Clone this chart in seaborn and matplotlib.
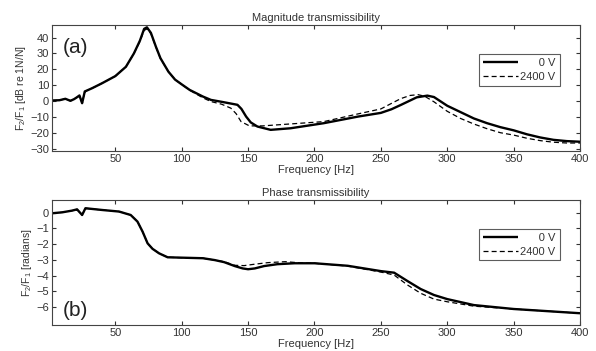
import pandas as pd
import matplotlib
matplotlib.use('Agg')
import matplotlib.pyplot as plt
import seaborn as sns

# Magnitude transmissibility, 0 V
mag_freq_0v = [2.3, 8, 12.4, 16.2, 19, 21.2, 23, 25, 27, 32.6, 40, 50, 58, 64, 68.5, 71.7, 73.8, 76.8,
               80.6, 84, 90, 95, 100, 106, 116, 122, 130, 142, 145, 148.5, 152, 157, 167, 182, 207,
               233, 250, 258, 265, 270, 277, 285, 290, 300, 310, 320, 330, 340, 350, 360, 370, 380, 390, 400]
mag_db_0v = [0.3, 0.5, 1.4, 0.1, 1.2, 2.4, 3.5, -1.4, 6, 8.1, 11.2, 15.7, 21.6, 30, 38, 45.5, 46.5, 43,
             34.2, 27, 18.5, 13.5, 10.5, 7, 2.8, 0.7, -0.5, -2.4, -5, -9.8, -13.5, -16.1, -18.2, -17.2, -14,
             -9.8, -7.5, -5.2, -2.5, -0.5, 2.3, 3.4, 2.5, -3, -7, -11, -14, -16.5, -18.5, -21, -23, -24.5, -25.3, -25.7]

# Magnitude transmissibility, 2400 V
mag_freq_2400v = [2.3, 8, 12.4, 16.2, 19, 21.2, 23, 25, 27, 32.6, 40, 50, 58, 64, 68.5, 71.7, 73.8, 76.8,
                  80.6, 84, 90, 95, 100, 106, 116, 122, 130, 137, 141, 144.7, 151, 161, 207, 233, 250, 258,
                  265, 272, 278, 283, 290, 300, 310, 320, 330, 340, 350, 360, 370, 380, 390, 400]
mag_db_2400v = [0.3, 0.5, 1.4, 0.1, 1.2, 2.4, 3.5, -1.4, 6, 8.1, 11.2, 15.7, 21.6, 30, 37.5, 44.5, 45.5, 42.5,
                34, 26.8, 18.5, 13.5, 10.5, 6.8, 2, -0.35, -2, -4.5, -8, -13, -15.7, -15.7, -13, -8.1, -5, -1.5,
                1.5, 3.5, 4, 3, -0.5, -6.5, -11, -14.5, -17.5, -20, -21.5, -23.5, -25, -26, -26.5, -26.5]

# Phase transmissibility, 0 V
ph_freq_0v = [2.3, 10, 17.5, 21.2, 25, 27.5, 40, 52.8, 61.6, 66.7, 70.5, 74.3, 78, 83, 89.4, 98, 116,
              125, 132, 140, 146, 150, 155, 162, 172, 185, 200, 225, 250, 260, 270, 280, 290, 300, 320, 350, 400]
ph_rad_0v = [-0.04, 0.02, 0.13, 0.21, -0.15, 0.28, 0.17, 0.07, -0.15, -0.57, -1.2, -1.95, -2.3, -2.59,
             -2.84, -2.86, -2.9, -3.02, -3.15, -3.4, -3.55, -3.6, -3.55, -3.4, -3.28, -3.22, -3.22, -3.38,
             -3.72, -3.82, -4.35, -4.86, -5.24, -5.5, -5.88, -6.13, -6.4]

# Phase transmissibility, 2400 V
ph_freq_2400v = [2.3, 10, 17.5, 21.2, 25, 27.5, 40, 52.8, 61.6, 66.7, 70.5, 74.3, 78, 83, 89.4, 98, 116,
                 125, 132, 140, 147, 155, 165, 178, 190, 200, 225, 250, 260, 270, 280, 290, 300, 320, 350, 400]
ph_rad_2400v = [-0.04, 0.02, 0.13, 0.21, -0.15, 0.28, 0.17, 0.07, -0.15, -0.57, -1.2, -1.95, -2.3, -2.59,
                -2.84, -2.86, -2.9, -3.02, -3.12, -3.35, -3.37, -3.28, -3.18, -3.12, -3.2, -3.22, -3.4,
                -3.78, -3.97, -4.6, -5.13, -5.5, -5.67, -5.95, -6.13, -6.4]

mag_ticks = [-30, -20, -10, 0, 10, 20, 30, 40]
ph_ticks = [0, -1, -2, -3, -4, -5, -6]
freq_ticks = [50, 100, 150, 200, 250, 300, 350, 400]

sns.set_style('ticks')
plt.rcParams['font.family'] = ['Liberation Sans', 'DejaVu Sans']
plt.rcParams['mathtext.default'] = 'regular'
txt = '#333333'

mag = pd.concat([
    pd.DataFrame({'f': mag_freq_0v, 'v': mag_db_0v, 'case': '      0 V'}),
    pd.DataFrame({'f': mag_freq_2400v, 'v': mag_db_2400v, 'case': '2400 V'}),
])
ph = pd.concat([
    pd.DataFrame({'f': ph_freq_0v, 'v': ph_rad_0v, 'case': '      0 V'}),
    pd.DataFrame({'f': ph_freq_2400v, 'v': ph_rad_2400v, 'case': '2400 V'}),
])

fig = plt.figure(figsize=(5.96, 3.51), dpi=100)
ax1 = fig.add_axes([0.0872, 0.570, 0.886, 0.359])
ax2 = fig.add_axes([0.0872, 0.074, 0.886, 0.356])

for ax, df, yt, ylim, ylabel, title, tag, tagy in [
        (ax1, mag, mag_ticks, (-31.5, 48), 'F$_2$/F$_1$ [dB re 1N/N]', 'Magnitude transmissibility', '(a)', 0.82),
        (ax2, ph, ph_ticks, (-7.15, 0.8), 'F$_2$/F$_1$ [radians]', 'Phase transmissibility', '(b)', 0.12)]:
    sns.lineplot(data=df, x='f', y='v', hue='case', style='case',
                 palette=['black', 'black'], dashes=[(1, 0), (4, 2.5)],
                 size='case', sizes=[1.7, 0.9], ax=ax, sort=False)
    ax.set_xlim(2.3, 400)
    ax.set_ylim(*ylim)
    ax.set_xticks(freq_ticks)
    ax.set_yticks(yt)
    ax.tick_params(direction='in', top=True, right=True, labeltop=False, labelright=False,
                   labelsize=8, colors=txt, length=3, width=0.8)
    ax.tick_params(axis='x', pad=2)
    ax.tick_params(axis='y', pad=2)
    for s in ax.spines.values():
        s.set_color('#444444')
        s.set_linewidth(0.8)
    ax.set_xlabel('Frequency [Hz]', fontsize=8, color=txt, labelpad=1)
    ax.set_ylabel(ylabel, fontsize=7.5, color=txt, labelpad=2)
    ax.set_title(title, fontsize=8, color=txt, pad=3)
    ax.text(0.02, tagy, tag, transform=ax.transAxes, fontsize=15, color='#222222', va='center')
    h, l = ax.get_legend_handles_labels()
    leg = ax.legend(h[:2], l[:2], loc='upper right', bbox_to_anchor=(0.972, 0.81), fontsize=8,
                    frameon=True, fancybox=False, edgecolor='#333333', handlelength=3.2,
                    handletextpad=0.2, borderpad=0.35, labelspacing=0.3)
    leg.get_frame().set_linewidth(0.8)
    for t in leg.get_texts():
        t.set_color(txt)

fig.savefig('out.png', dpi=100)
